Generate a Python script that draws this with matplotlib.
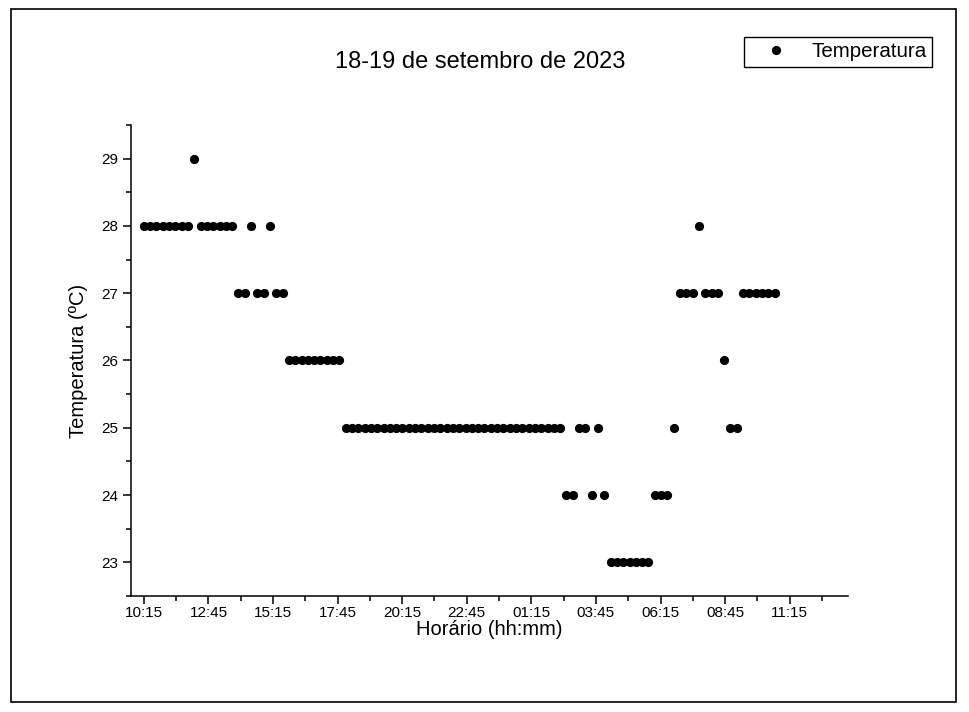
import numpy as np
import matplotlib
matplotlib.use("Agg")
import matplotlib.pyplot as plt
from matplotlib.patches import Rectangle

plt.rcParams['font.family'] = ['Liberation Sans', 'DejaVu Sans']

# temperaturas lidas (ºC), uma leitura a cada intervalo a partir das 10:15
temperatura = [28, 28, 28, 28, 28, 28, 28, 28, 29, 28, 28, 28, 28, 28, 28,
               27, 27, 28, 27, 27, 28, 27, 27,
               26, 26, 26, 26, 26, 26, 26, 26, 26,
               25, 25, 25, 25, 25, 25, 25, 25, 25, 25, 25, 25, 25, 25, 25, 25, 25,
               25, 25, 25, 25, 25, 25, 25, 25, 25, 25, 25, 25, 25, 25, 25, 25, 25, 25,
               24, 24, 25, 25, 24, 25, 24,
               23, 23, 23, 23, 23, 23, 23,
               24, 24, 24, 25,
               27, 27, 27, 28, 27, 27, 27, 26, 25, 25,
               27, 27, 27, 27, 27, 27]
inicio_h = 10.25          # 10:15
intervalo_min = 14.65
horario = inicio_h + np.arange(len(temperatura)) * intervalo_min / 60

tick_pos = [10.25, 12.75, 15.25, 17.75, 20.25, 22.75, 25.25, 27.75, 30.25, 32.75, 35.25]
tick_labels = ['10:15', '12:45', '15:15', '17:45', '20:15', '22:45',
               '01:15', '03:45', '06:15', '08:45', '11:15']

fig = plt.figure(figsize=(9.7, 7.12), dpi=100)
ax = fig.add_axes([0.135, 0.163, 0.739, 0.6614])

ax.plot(horario, temperatura, 'o', color='black', markersize=5.6, label='Temperatura')

ax.set_xlim(9.75, 37.5)
ax.set_ylim(22.5, 29.5)
ax.set_xticks(tick_pos)
ax.set_xticklabels(tick_labels)
ax.set_xticks([t + 1.25 for t in tick_pos], minor=True)
ax.set_yticks([23, 24, 25, 26, 27, 28, 29])
ax.set_yticks([22.5, 23.5, 24.5, 25.5, 26.5, 27.5, 28.5, 29.5], minor=True)

for s in ['top', 'right']:
    ax.spines[s].set_visible(False)
for s in ['left', 'bottom']:
    ax.spines[s].set_linewidth(1.1)
ax.tick_params(which='major', length=6, width=1.1, labelsize=11, direction='out')
ax.tick_params(axis='x', which='major', pad=1)
ax.tick_params(which='minor', length=3.5, width=1.1, direction='out')

ax.set_xlabel('Horário (hh:mm)', fontsize=14.5, labelpad=0)
ax.set_ylabel('Temperatura (ºC)', fontsize=14.5, labelpad=9)
fig.text(0.495, 0.913, '18-19 de setembro de 2023', fontsize=17, ha='center', va='center')

leg = fig.legend(loc='upper right', bbox_to_anchor=(0.961, 0.948), borderaxespad=0,
                 fancybox=False, edgecolor='black', framealpha=1, fontsize=14.8,
                 handletextpad=0.42, borderpad=0.26, handlelength=2.6)
leg.get_frame().set_linewidth(1.0)

fig.add_artist(Rectangle((0.011, 0.014), 0.975, 0.973, transform=fig.transFigure,
                         fill=False, edgecolor='black', linewidth=1.2))

fig.savefig('out.png', dpi=100)
